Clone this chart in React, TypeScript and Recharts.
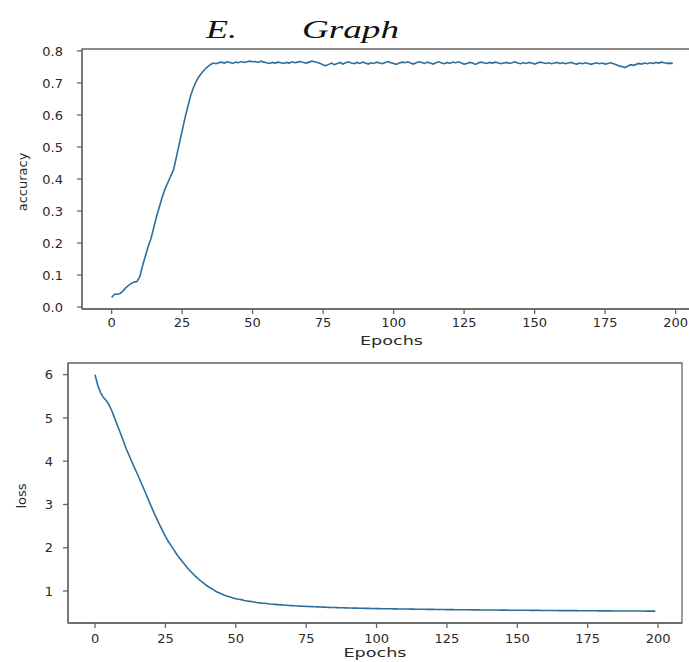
import { LineChart, Line, XAxis, YAxis, ReferenceArea } from "recharts";

// accuracy per epoch (0..199)
const accuracy = [
  0.03, 0.04, 0.04, 0.042, 0.05, 0.06, 0.068, 0.074, 0.078, 0.08,
  0.095, 0.13, 0.16, 0.19, 0.215, 0.25, 0.285, 0.315, 0.345, 0.37,
  0.39, 0.41, 0.43, 0.47, 0.51, 0.55, 0.59, 0.625, 0.66, 0.685,
  0.705, 0.72, 0.732, 0.742, 0.75, 0.757, 0.762, 0.76, 0.763, 0.765,
  0.762, 0.766, 0.764, 0.761, 0.765, 0.763, 0.767, 0.764, 0.766, 0.768,
  0.766, 0.767, 0.764, 0.768, 0.765, 0.763, 0.761, 0.764, 0.762, 0.765,
  0.763, 0.761, 0.764, 0.762, 0.766, 0.763, 0.765, 0.767, 0.764, 0.762,
  0.765, 0.768, 0.766, 0.764, 0.761, 0.756, 0.754, 0.758, 0.762, 0.757,
  0.761, 0.764, 0.759, 0.763, 0.766, 0.762, 0.76, 0.764, 0.761, 0.765,
  0.762, 0.759, 0.763, 0.761, 0.765, 0.762, 0.76, 0.764, 0.767, 0.763,
  0.761, 0.758, 0.762, 0.765, 0.763, 0.766, 0.762, 0.759, 0.763, 0.766,
  0.764, 0.761, 0.765, 0.762, 0.759, 0.763, 0.766, 0.762, 0.76, 0.764,
  0.761, 0.765, 0.763, 0.766, 0.762, 0.759, 0.761, 0.764, 0.762, 0.758,
  0.762, 0.765, 0.763, 0.761, 0.764, 0.762, 0.765, 0.763, 0.76, 0.762,
  0.764, 0.761, 0.763, 0.766, 0.762, 0.76, 0.763, 0.761, 0.764, 0.762,
  0.759, 0.762, 0.765, 0.763, 0.761, 0.763, 0.76, 0.762, 0.764, 0.761,
  0.763, 0.76, 0.762, 0.764, 0.761, 0.759, 0.762, 0.76, 0.763, 0.761,
  0.758, 0.761, 0.763, 0.76, 0.762, 0.759, 0.761, 0.763, 0.76, 0.757,
  0.753, 0.751, 0.748, 0.752, 0.757, 0.755, 0.758, 0.761, 0.759, 0.762,
  0.76, 0.763, 0.761, 0.764, 0.762, 0.765, 0.763, 0.761, 0.762, 0.761,
];

// loss per epoch (0..199)
const loss = [
  6.0, 5.75, 5.58, 5.47, 5.4, 5.3, 5.16, 4.99, 4.82, 4.65,
  4.48, 4.3, 4.15, 4.0, 3.85, 3.71, 3.56, 3.41, 3.26, 3.1,
  2.95, 2.8, 2.66, 2.52, 2.39, 2.26, 2.15, 2.05, 1.95, 1.85,
  1.76, 1.68, 1.6, 1.52, 1.45, 1.38, 1.32, 1.26, 1.21, 1.16,
  1.11, 1.07, 1.03, 0.99, 0.96, 0.93, 0.9, 0.88, 0.86, 0.84,
  0.82, 0.81, 0.8, 0.78, 0.77, 0.76, 0.75, 0.74, 0.73, 0.72,
  0.715, 0.71, 0.7, 0.695, 0.69, 0.685, 0.68, 0.675, 0.67, 0.666,
  0.662, 0.658, 0.654, 0.65, 0.647, 0.644, 0.641, 0.638, 0.635, 0.632,
  0.63, 0.627, 0.625, 0.622, 0.62, 0.618, 0.616, 0.614, 0.612, 0.61,
  0.608, 0.606, 0.604, 0.603, 0.601, 0.6, 0.598, 0.597, 0.596, 0.594,
  0.593, 0.592, 0.591, 0.59, 0.589, 0.588, 0.587, 0.586, 0.585, 0.584,
  0.583, 0.582, 0.581, 0.58, 0.579, 0.578, 0.577, 0.577, 0.576, 0.575,
  0.574, 0.573, 0.573, 0.572, 0.571, 0.57, 0.57, 0.569, 0.568, 0.568,
  0.567, 0.566, 0.566, 0.565, 0.564, 0.564, 0.563, 0.562, 0.562, 0.561,
  0.561, 0.56, 0.559, 0.559, 0.558, 0.558, 0.557, 0.556, 0.556, 0.555,
  0.555, 0.554, 0.554, 0.553, 0.553, 0.552, 0.552, 0.551, 0.551, 0.55,
  0.55, 0.549, 0.549, 0.548, 0.548, 0.547, 0.547, 0.546, 0.546, 0.546,
  0.545, 0.545, 0.544, 0.544, 0.543, 0.543, 0.543, 0.542, 0.542, 0.541,
  0.541, 0.541, 0.54, 0.54, 0.539, 0.539, 0.539, 0.538, 0.538, 0.538,
  0.537, 0.537, 0.537, 0.536, 0.536, 0.536, 0.535, 0.535, 0.535, 0.534,
];

const epochTicks = [0, 25, 50, 75, 100, 125, 150, 175, 200];
const accTicks = [0, 0.1, 0.2, 0.3, 0.4, 0.5, 0.6, 0.7, 0.8];
const lossTicks = [1, 2, 3, 4, 5, 6];

const accData = accuracy.map((acc, epoch) => ({ epoch, acc }));
const lossData = loss.map((l, epoch) => ({ epoch, loss: l }));

const FONT = "DejaVu Sans";
const AXIS = "#666";
const LINE = "#2d6f9c";
const tickStyle = { fontSize: 13, fill: "#2a2a2a", fontFamily: FONT };

const accX = [-10.5, 209];
const accY = [-0.006, 0.806];
const lossX = [-9.6, 208.5];
const lossY = [0.26, 6.27];

// x axis title, stretched like the source image
const XTitle = ({ viewBox, down }: any) => {
  const { x, y, width } = viewBox;
  return (
    <text
      x={x + width / 2}
      y={y + down}
      textAnchor="middle"
      fontSize={13}
      fill="#2a2a2a"
      fontFamily={FONT}
      textLength={63}
      lengthAdjust="spacingAndGlyphs"
    >
      Epochs
    </text>
  );
};

// rotated y axis title
const YTitle = ({ viewBox, left, text }: any) => {
  const cx = viewBox.x + left;
  const cy = viewBox.y + viewBox.height / 2 + 3;
  return (
    <text
      x={cx}
      y={cy}
      transform={`rotate(-90 ${cx} ${cy})`}
      textAnchor="middle"
      fontSize={13}
      fill="#2a2a2a"
      fontFamily={FONT}
    >
      {text}
    </text>
  );
};

export default function App() {
  return (
    <div
      style={{
        position: "absolute",
        left: 0,
        top: 0,
        width: 689,
        height: 662,
        overflow: "hidden",
        background: "#fff",
      }}
    >
      {/* heading */}
      <svg width={689} height={50} style={{ position: "absolute", left: 0, top: 0 }}>
        <text x={206} y={38} fontSize={26} fontStyle="italic" fontFamily="Liberation Serif" fill="#111" textLength={31} lengthAdjust="spacingAndGlyphs">
          E.
        </text>
        <text x={302} y={38} fontSize={26} fontStyle="italic" fontFamily="Liberation Serif" fill="#111" textLength={97} lengthAdjust="spacingAndGlyphs">
          Graph
        </text>
      </svg>

      {/* accuracy panel */}
      <div style={{ position: "absolute", left: 0, top: 0 }}>
        <LineChart width={711} height={350} data={accData} margin={{ top: 49, right: 10, left: 0, bottom: 1 }}>
          <XAxis
            dataKey="epoch"
            type="number"
            domain={accX}
            ticks={epochTicks}
            allowDataOverflow
            height={40}
            tick={tickStyle}
            tickSize={5}
            tickMargin={4}
            stroke={AXIS}
            strokeWidth={1.3}
            label={<XTitle down={36} />}
          />
          <YAxis
            type="number"
            domain={accY}
            ticks={accTicks}
            allowDataOverflow
            width={82}
            tick={tickStyle}
            tickSize={5}
            tickMargin={14}
            tickFormatter={(v: number) => v.toFixed(1)}
            stroke={AXIS}
            strokeWidth={1.3}
            label={<YTitle left={27} text="accuracy" />}
          />
          <ReferenceArea x1={accX[0]} x2={accX[1]} y1={accY[0]} y2={accY[1]} fill="none" stroke={AXIS} strokeWidth={1.3} ifOverflow="visible" />
          <Line type="linear" dataKey="acc" stroke={LINE} strokeWidth={1.6} dot={false} isAnimationActive={false} />
        </LineChart>
      </div>

      {/* loss panel */}
      <div style={{ position: "absolute", left: 0, top: 320 }}>
        <LineChart width={689} height={342} data={lossData} margin={{ top: 43, right: 7, left: 0, bottom: 1 }}>
          <XAxis
            dataKey="epoch"
            type="number"
            domain={lossX}
            ticks={epochTicks}
            allowDataOverflow
            height={38}
            tick={tickStyle}
            tickSize={5}
            tickMargin={6}
            stroke={AXIS}
            strokeWidth={1.3}
            label={<XTitle down={34} />}
          />
          <YAxis
            type="number"
            domain={lossY}
            ticks={lossTicks}
            allowDataOverflow
            width={68}
            tick={tickStyle}
            tickSize={5}
            tickMargin={10}
            stroke={AXIS}
            strokeWidth={1.3}
            label={<YTitle left={26} text="loss" />}
          />
          <ReferenceArea x1={lossX[0]} x2={lossX[1]} y1={lossY[0]} y2={lossY[1]} fill="none" stroke={AXIS} strokeWidth={1.3} ifOverflow="visible" />
          <Line type="linear" dataKey="loss" stroke={LINE} strokeWidth={1.6} dot={false} isAnimationActive={false} />
        </LineChart>
      </div>
    </div>
  );
}
